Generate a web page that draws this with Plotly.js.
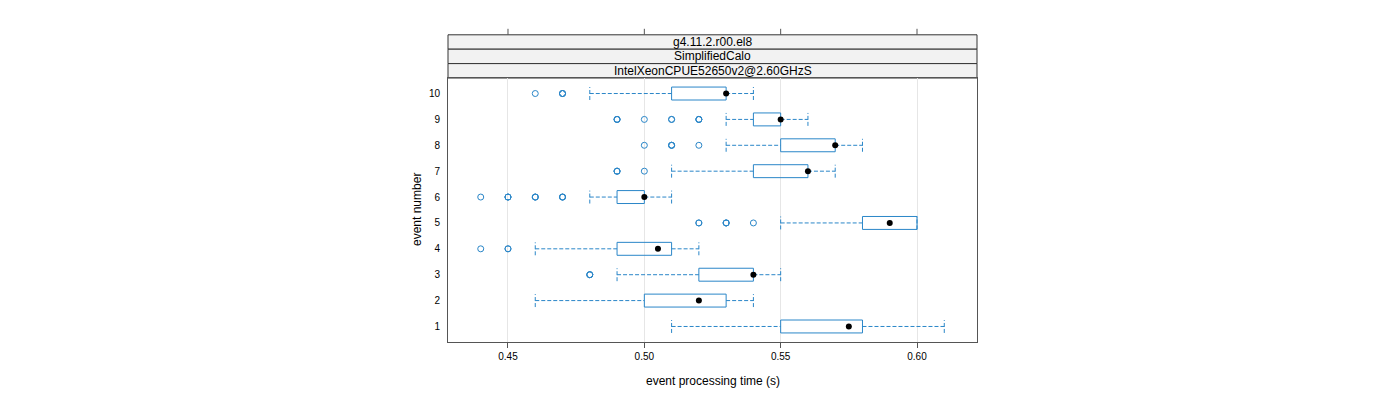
<!DOCTYPE html>
<html>
<head>
<meta charset="utf-8">
<script src="https://cdn.plot.ly/plotly-3.0.1.min.js"></script>
<style>html,body{margin:0;padding:0;background:#fff;}#chart{width:1400px;height:400px;}</style>
</head>
<body>
<div id="chart"></div>
<script>
// ---- data ----
const events = [1, 2, 3, 4, 5, 6, 7, 8, 9, 10];
const q1  = [0.55, 0.50, 0.52, 0.49, 0.58, 0.49, 0.54, 0.55, 0.54, 0.51];
const q3  = [0.58, 0.53, 0.54, 0.51, 0.60, 0.50, 0.56, 0.57, 0.55, 0.53];
const med = [0.575, 0.52, 0.54, 0.505, 0.59, 0.50, 0.56, 0.57, 0.55, 0.53];
const lo  = [0.51, 0.46, 0.49, 0.46, 0.55, 0.48, 0.51, 0.53, 0.53, 0.48];
const hi  = [0.61, 0.54, 0.55, 0.52, 0.60, 0.51, 0.57, 0.58, 0.56, 0.54];
const outliers = [
  [],
  [],
  [0.48, 0.48, 0.48],
  [0.44, 0.45, 0.45],
  [0.52, 0.52, 0.53, 0.53, 0.53, 0.54],
  [0.44, 0.45, 0.45, 0.45, 0.46, 0.46, 0.46, 0.47, 0.47, 0.47],
  [0.49, 0.49, 0.49, 0.50],
  [0.50, 0.51, 0.51, 0.51, 0.52],
  [0.49, 0.49, 0.49, 0.50, 0.51, 0.51, 0.52, 0.52, 0.52],
  [0.46, 0.47, 0.47, 0.47]
];
const xTickVals = [0.45, 0.50, 0.55, 0.60];
const xTickText = ["0.45", "0.50", "0.55", "0.60"];
const stripLabels = ["g4.11.2.r00.el8", "SimplifiedCalo", "IntelXeonCPUE52650v2@2.60GHzS"];
const xTitle = "event processing time (s)";
const yTitle = "event number";

// ---- style ----
const BLUE = "#2a86c8";
const FONT = "Liberation Sans, Arial, Helvetica, sans-serif";
const HALF = 0.25;

// ---- build traces ----
const boxX = [], boxY = [];
const whX = [], whY = [];
const outX = [], outY = [];
events.forEach((e, i) => {
  boxX.push(q1[i], q3[i], q3[i], q1[i], q1[i], null);
  boxY.push(e - HALF, e - HALF, e + HALF, e + HALF, e - HALF, null);
  // whiskers
  whX.push(lo[i], q1[i], null, q3[i], hi[i], null);
  whY.push(e, e, null, e, e, null);
  // caps
  whX.push(lo[i], lo[i], null, hi[i], hi[i], null);
  whY.push(e - HALF, e + HALF, null, e - HALF, e + HALF, null);
  outliers[i].forEach(v => { outX.push(v); outY.push(e); });
});

const traces = [
  {type: "scatter", mode: "lines", x: whX, y: whY, hoverinfo: "skip",
   line: {color: BLUE, width: 1, dash: "4px,2px"}, connectgaps: false},
  {type: "scatter", mode: "lines", x: boxX, y: boxY, hoverinfo: "skip",
   line: {color: BLUE, width: 1}, connectgaps: false},
  {type: "scatter", mode: "markers", x: outX, y: outY,
   marker: {symbol: "circle-open", size: 6, color: BLUE, line: {width: 1, color: BLUE}}},
  {type: "scatter", mode: "markers", x: med, y: events,
   marker: {symbol: "circle", size: 6, color: "#000"}}
];

// ---- layout ----
const plotH = 400 - 78 - 58;
const stripH = 14.4 / plotH;
const shapes = [];
stripLabels.forEach((s, k) => {
  const y0 = 1 + (stripLabels.length - 1 - k) * stripH;
  shapes.push({type: "rect", xref: "paper", yref: "paper", x0: 0, x1: 1, y0: y0, y1: y0 + stripH,
    fillcolor: "#f2f2f2", line: {color: "#333", width: 1}, layer: "below"});
});
const stripTop = 1 + stripLabels.length * stripH;
xTickVals.forEach(v => {
  shapes.push({type: "line", xref: "x", yref: "paper", x0: v, x1: v, y0: stripTop, y1: stripTop + 6 / plotH,
    line: {color: "#555", width: 1}});
});

const annotations = stripLabels.map((s, k) => ({
  text: s, xref: "paper", yref: "paper", x: 0.5,
  y: 1 + (stripLabels.length - 1 - k + 0.5) * stripH,
  showarrow: false, xanchor: "center", yanchor: "middle",
  font: {family: FONT, size: 12, color: "#000"}
}));
annotations.push({text: xTitle, xref: "paper", yref: "paper", x: 0.5, y: -39 / plotH,
  showarrow: false, xanchor: "center", yanchor: "middle", font: {family: FONT, size: 12, color: "#000"}});
annotations.push({text: yTitle, xref: "paper", yref: "paper", x: -31 / 529, y: 0.5, textangle: -90,
  showarrow: false, xanchor: "center", yanchor: "middle", font: {family: FONT, size: 12, color: "#000"}});

const layout = {
  width: 1400, height: 400,
  margin: {l: 448, r: 423, t: 78, b: 58},
  paper_bgcolor: "#fff", plot_bgcolor: "#fff",
  showlegend: false,
  font: {family: FONT, size: 10, color: "#000"},
  xaxis: {range: [0.428, 0.622], tickvals: xTickVals, ticktext: xTickText,
    showgrid: true, gridcolor: "#e6e6e6", gridwidth: 1, zeroline: false,
    ticks: "outside", ticklen: 5, tickcolor: "#555", tickfont: {family: FONT, size: 10, color: "#000"},
    showline: true, linecolor: "#555", linewidth: 1, mirror: true, fixedrange: true},
  yaxis: {range: [0.4, 10.6], tickvals: events, ticktext: events.map(String),
    showgrid: false, zeroline: false,
    ticks: "outside", ticklen: 5, tickcolor: "rgba(0,0,0,0)", tickfont: {family: FONT, size: 10, color: "#000"},
    showline: true, linecolor: "#555", linewidth: 1, mirror: true, fixedrange: true},
  shapes: shapes,
  annotations: annotations
};

Plotly.newPlot("chart", traces, layout, {staticPlot: true, displayModeBar: false});
</script>
</body>
</html>
